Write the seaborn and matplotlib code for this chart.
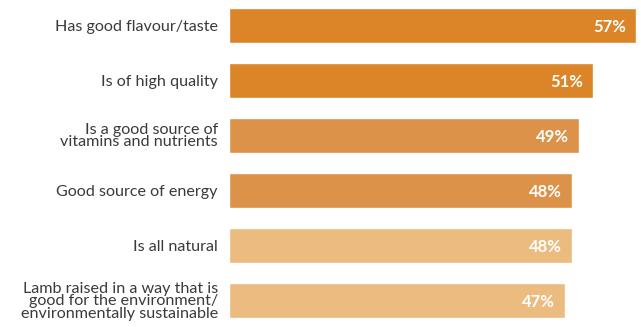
import matplotlib
matplotlib.use("Agg")
import matplotlib.pyplot as plt
import seaborn as sns
import pandas as pd

categories = [
    "Has good flavour/taste",
    "Is of high quality",
    "Is a good source of\nvitamins and nutrients",
    "Good source of energy",
    "Is all natural",
    "Lamb raised in a way that is\ngood for the environment/\nenvironmentally sustainable",
]
values = [57, 51, 49, 48, 48, 47]
colors = ["#DB8428", "#DB8428", "#DD9249", "#DD9249", "#EBBB80", "#EBBB80"]

sns.set_theme(style="white")
plt.rcParams["font.family"] = ["Lato", "DejaVu Sans"]

df = pd.DataFrame({"cat": categories, "val": values})

fig = plt.figure(figsize=(6.41, 3.27), dpi=100)
ax = fig.add_axes([229 / 641, 0, 412 / 641, 1])
sns.barplot(data=df, y="cat", x="val", hue="cat", palette=colors, legend=False,
            width=35 / 55, ax=ax, saturation=1, orient="h")
ax.set_xlim(0, 412 / 7.14)
ax.set_ylim(5 + 26.5 / 55, -25.5 / 55)
ax.set_xlabel("")
ax.set_ylabel("")
ax.set_xticks([])
for s in ax.spines.values():
    s.set_visible(False)
ax.tick_params(axis="y", length=0, pad=8)
for lab in ax.get_yticklabels():
    lab.set_fontsize(11.6)
    lab.set_color("#3a3a3a")
    lab.set_linespacing(0.85)
    lab.set_horizontalalignment("right")
for i, v in enumerate(values):
    ax.text(v - 1.4, i + 0.02, f"{v}%", ha="right", va="center", color="white",
            fontsize=12, fontweight="bold")

fig.savefig("out.png", dpi=100)
